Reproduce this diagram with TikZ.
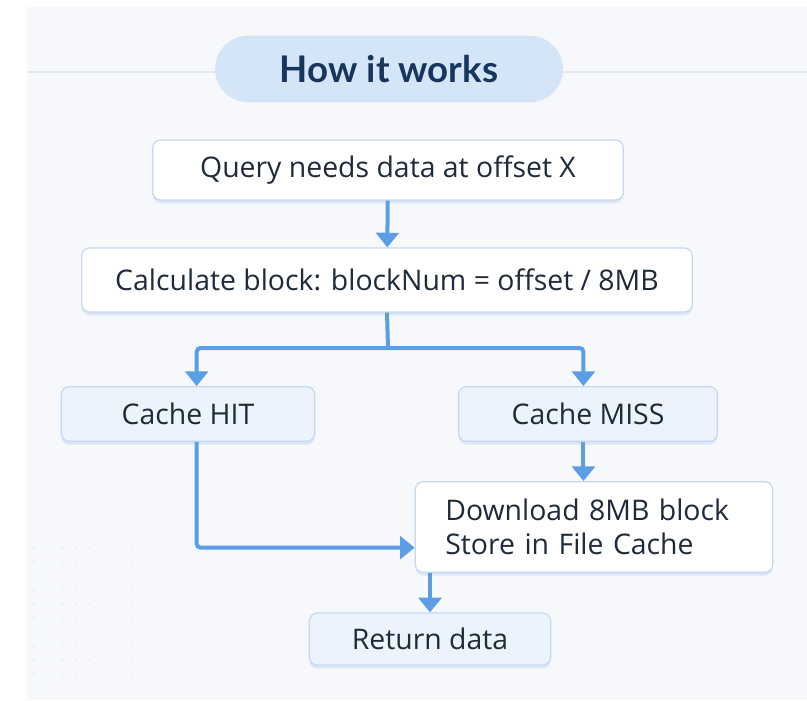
\documentclass[tikz,border=0pt]{standalone}
\usepackage{fontspec}
\setmainfont{Lato}
\newfontfamily\bodyfont{Open Sans}
\usetikzlibrary{arrows.meta,positioning,shadows}

\definecolor{panelbg}{HTML}{F6F8FC}
\definecolor{rulegray}{HTML}{E2E8F1}
\definecolor{dotgray}{HTML}{E6EAF1}
\definecolor{titlefill}{HTML}{D4E5F8}
\definecolor{titleink}{HTML}{17365E}
\definecolor{boxline}{HTML}{C5D8EF}
\definecolor{palefill}{HTML}{EBF3FD}
\definecolor{ink}{HTML}{1F2A3A}
\definecolor{flowblue}{HTML}{5B9EE6}
\definecolor{glow}{HTML}{A9C8EE}

\begin{document}
\begin{tikzpicture}[x=0.75pt,y=-0.75pt,
  box/.style={draw=boxline, line width=0.9pt, rounded corners=6pt, fill=white, text=ink,
    font=\bodyfont\fontsize{21.3}{25.5}\selectfont, inner sep=0pt,
    drop shadow={shadow xshift=0pt, shadow yshift=-2.5pt, fill=glow, opacity=0.35}},
  palebox/.style={box, fill=palefill},
  link/.style={draw=flowblue, line width=3pt, rounded corners=3pt},
  flow/.style={link, -{Triangle[width=17pt,length=11pt]}}
]
\useasboundingbox (0,0) rectangle (807,700);
\fill[panelbg] (27,7) rectangle (807,700);
\draw[rulegray, line width=1.2pt] (27,72) -- (807,72);
% faint dot field, lower left
\foreach \i in {0,...,17} {
  \foreach \j in {0,...,10} {
    \pgfmathsetmacro{\fade}{max(0,1-\i/18)*0.8}
    \fill[dotgray, opacity=\fade] (34+14*\i,548+14*\j) circle (1.1pt);
  }
}

\node[fill=titlefill, rounded corners=25pt, minimum width=261pt, minimum height=50pt,
  text=titleink, font=\bfseries\fontsize{27.5}{32}\selectfont] (title) at (389,69) {How it works};

\node[box, minimum width=353pt, minimum height=45pt] (query) at (388,170) {Query needs data at offset X};
\node[box, minimum width=458pt, minimum height=48pt] (calc) at (387,280) {Calculate block: blockNum = offset / 8MB};
\node[palebox, minimum width=190pt, minimum height=41pt] (hit) at (188,414) {Cache HIT};
\node[palebox, minimum width=194pt, minimum height=41pt] (miss) at (588,414) {Cache MISS};
\node[box, minimum width=268pt, minimum height=68pt, text width=223pt, inner xsep=22.5pt,
  align=left] (dl) at (594,527) {Download 8MB block\\Store in File Cache};
\node[palebox, minimum width=181pt, minimum height=39pt] (ret) at (430,639) {Return data};

\draw[flow] (query) -- (calc);
\draw[link] (calc.south) -- (388,348) coordinate (fork);
\draw[flow] (fork) -| ([xshift=6.5pt]hit.north);
\draw[flow] (fork) -| ([xshift=-3.4pt]miss.north);
\draw[flow] ([xshift=-3.4pt]miss.south) -- ([xshift=-3.4pt]miss.south |- dl.north);
\draw[flow] ([xshift=6.5pt]hit.south) |- ([yshift=-15.5pt]dl.west);
\draw[flow] (ret.north |- dl.south) -- (ret.north);
\end{tikzpicture}
\end{document}
